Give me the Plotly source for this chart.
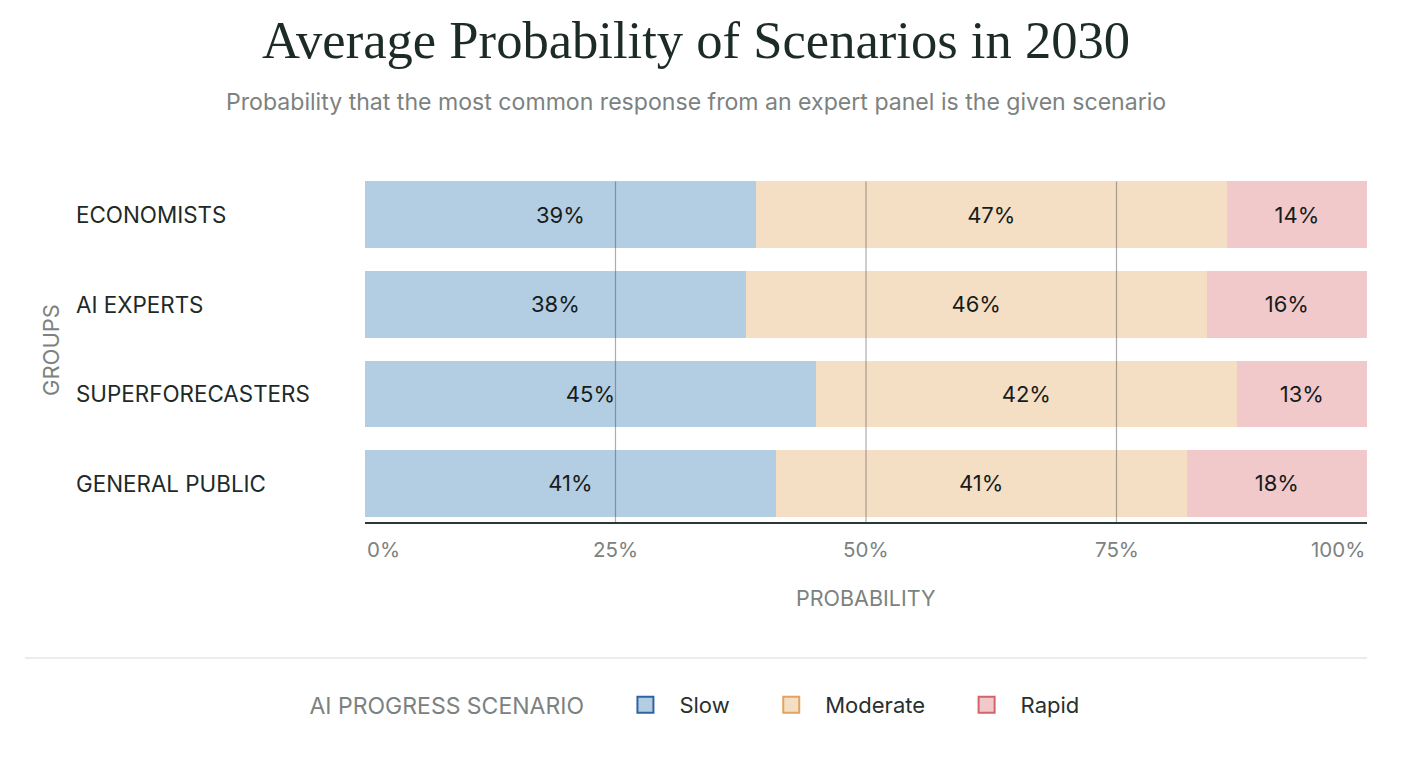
import plotly.graph_objects as go

# ---- data ----
groups = ["ECONOMISTS", "AI EXPERTS", "SUPERFORECASTERS", "GENERAL PUBLIC"]
scenarios = ["Slow", "Moderate", "Rapid"]
slow = [39, 38, 45, 41]
moderate = [47, 46, 42, 41]
rapid = [14, 16, 13, 18]
tick_vals = [0, 25, 50, 75, 100]
tick_text = ["0%", "25%", "50%", "75%", "100%"]
grid_vals = [25, 50, 75]

title_text = "Average Probability of Scenarios in 2030"
subtitle_text = "Probability that the most common response from an expert panel is the given scenario"
legend_title = "AI PROGRESS SCENARIO"

# ---- styles ----
fill_colors = {"Slow": "#b3cde2", "Moderate": "#f4dfc5", "Rapid": "#f2c9cb"}
edge_colors = {"Slow": "#2f63a3", "Moderate": "#e2a35e", "Rapid": "#d4636b"}
SANS = "Inter, Liberation Sans, Arial, sans-serif"
SERIF = "Liberation Serif, Times New Roman, serif"
DARK = "#1e2a27"
GRAY = "#7c8280"

OFF = 8  # page body margin
W, H = 1421 - OFF, 757 - OFF
PL, PR, PT, PB = 365, 1367, 170, 522          # plot area in window pixels
ML, MR, MT = PL - OFF, W - (PR - OFF), PT - OFF
MB = H - (PB - OFF)
PW = PR - PL
PH = PB - PT
BARGAP = 0.255
Y_RANGE = [len(groups) - 0.57, -0.5]   # axis line sits just below the last bar


def fx(px):
    return (px - PL) / PW


def fy(py):
    return (PB - py) / PH


series = {"Slow": slow, "Moderate": moderate, "Rapid": rapid}

fig = go.Figure()
for s in scenarios:
    vals = series[s]
    fig.add_trace(go.Bar(
        x=vals, y=groups, orientation="h", name=s,
        marker=dict(color=fill_colors[s], line=dict(width=0)),
        text=[f"{v}%" for v in vals], textposition="inside",
        insidetextanchor="middle",
        textfont=dict(family=SANS, size=22, color="#161c1b"),
        showlegend=False, hoverinfo="skip",
    ))
# legend entries
pad = "\u00a0" * 3 + "\u2009"
for s in scenarios:
    fig.add_trace(go.Scatter(
        x=[None], y=[None], mode="markers", name=s + (pad if s != scenarios[-1] else ""),
        marker=dict(symbol="square", size=23, color=fill_colors[s],
                    line=dict(color=edge_colors[s], width=2)),
        showlegend=True,
    ))

# gridlines over bars (from axis up to the top of the first bar)
first_top = -0.5 + BARGAP / 2
top_frac = (Y_RANGE[0] - first_top) / (Y_RANGE[0] - Y_RANGE[1])
shapes = []
for g in grid_vals:
    shapes.append(dict(type="line", xref="x", yref="paper", x0=g, x1=g,
                       y0=0, y1=top_frac, layer="above",
                       line=dict(color="rgba(70,70,70,0.45)", width=1.2)))
# separator above legend
shapes.append(dict(type="line", xref="paper", yref="paper",
                   x0=fx(25), x1=1, y0=fy(658), y1=fy(658),
                   line=dict(color="#e6e6e6", width=1.5)))

annotations = []
# category labels (left aligned)
for g in groups:
    annotations.append(dict(text=g, xref="paper", yref="y", x=fx(74), y=g,
                            xanchor="left", yanchor="middle", showarrow=False,
                            font=dict(family=SANS, size=22.4, color=DARK)))
# x tick labels
for i, (v, t) in enumerate(zip(tick_vals, tick_text)):
    anchor = "left" if i == 0 else ("right" if i == len(tick_vals) - 1 else "center")
    annotations.append(dict(text=t, xref="x", yref="paper", x=v, y=fy(549),
                            xanchor=anchor, yanchor="middle", showarrow=False,
                            font=dict(family=SANS, size=20.5, color=GRAY)))
# axis titles
annotations.append(dict(text="PROBABILITY", xref="paper", yref="paper", x=0.5,
                        y=fy(598), xanchor="center", yanchor="middle",
                        showarrow=False, font=dict(family=SANS, size=21.5, color=GRAY)))
annotations.append(dict(text="GROUPS", xref="paper", yref="paper", x=fx(51),
                        y=fy(350), xanchor="center", yanchor="middle", textangle=-90,
                        showarrow=False, font=dict(family=SANS, size=22, color=GRAY)))
# title and subtitle
cx = fx(696)
annotations.append(dict(text=title_text, xref="paper", yref="paper", x=cx,
                        y=fy(40), xanchor="center", yanchor="middle",
                        showarrow=False, font=dict(family=SERIF, size=52.6, color="#1c2b26")))
annotations.append(dict(text=subtitle_text, xref="paper", yref="paper", x=cx,
                        y=fy(102), xanchor="center", yanchor="middle",
                        showarrow=False, font=dict(family=SANS, size=23.1, color=GRAY)))

fig.update_layout(
    width=W, height=H,
    margin=dict(l=ML, r=MR, t=MT, b=MB, pad=0),
    barmode="stack", bargap=BARGAP,
    plot_bgcolor="white", paper_bgcolor="white",
    shapes=shapes, annotations=annotations,
    xaxis=dict(range=[0, 100], showgrid=False, zeroline=False, showticklabels=False,
               showline=True, linecolor="#2b3936", linewidth=2, fixedrange=True),
    yaxis=dict(categoryorder="array", categoryarray=groups, range=Y_RANGE,
               autorange=False, showgrid=False, zeroline=False, showticklabels=False,
               showline=False, fixedrange=True),
    legend=dict(orientation="h", x=cx, xanchor="center", y=fy(705),
                yanchor="middle", traceorder="normal",
                font=dict(family=SANS, size=22, color="#2a2f2e"),
                title=dict(text=legend_title + "\u00a0" * 3, side="left",
                           font=dict(family=SANS, size=23, color=GRAY)),
                itemwidth=58, tracegroupgap=0),
    showlegend=True,
)

fig.write_html("out.html")
